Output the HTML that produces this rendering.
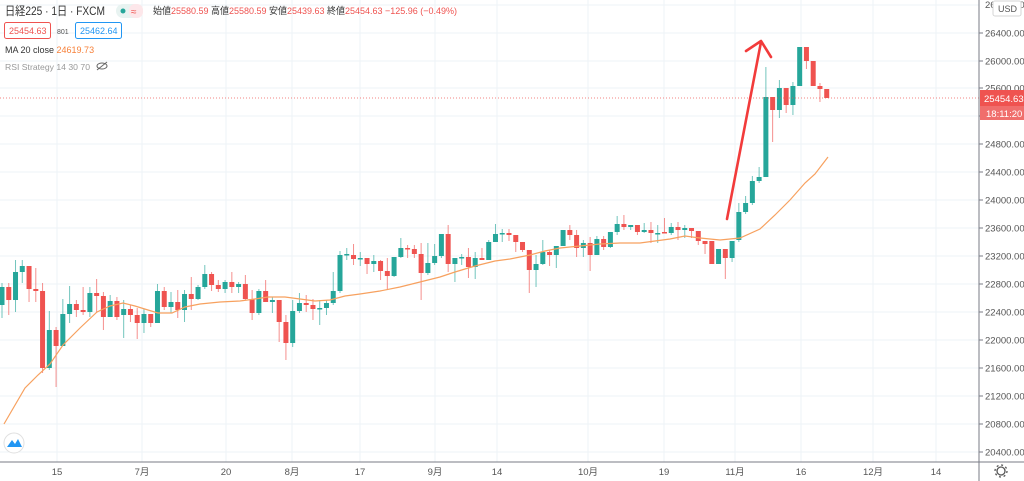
<!DOCTYPE html>
<html><head><meta charset="utf-8"><style>
body{margin:0;width:1024px;height:481px;overflow:hidden;background:#fff;font-family:"Liberation Sans","Noto Sans CJK JP",sans-serif}
svg{position:absolute;left:0;top:0}
</style></head><body>
<svg id="s" width="1024" height="481" xmlns="http://www.w3.org/2000/svg" font-family="Liberation Sans, Noto Sans CJK JP, sans-serif"></svg>
<script>
var o='';
var ys=[33,61,88,116,144,172,200,228,256,284,312,340,368,396,424,452];
var labs=[26400,26000,25600,25200,24800,24400,24000,23600,23200,22800,22400,22000,21600,21200,20800,20400];
o+='<line x1="0" y1="5" x2="979" y2="5" stroke="#eef3f7"/>';
ys.forEach(function(y){o+='<line x1="0" y1="'+y+'" x2="979" y2="'+y+'" stroke="#eef3f7"/>';});
var xl=[[57,'15'],[142,'7月'],[226,'20'],[292,'8月'],[360,'17'],[435,'9月'],[497,'14'],[588,'10月'],[664,'19'],[735,'11月'],[801,'16'],[873,'12月'],[936,'14']];
xl.forEach(function(a){o+='<line x1="'+a[0]+'" y1="0" x2="'+a[0]+'" y2="462" stroke="#eef3f7"/>';});
var c=[[287,305,283,318,'G'],[287,300,283,315,'R'],[272,300,260,312,'G'],[266,272,260,283,'G'],[266,289,266,302,'R'],[289,291,268,302,'R'],[291,368,283,373,'R'],[330,368,311,370,'G'],[330,346,327,387,'R'],[314,346,299,346,'G'],[304,314,286,323,'G'],[304,310,300,317,'R'],[310,312,287,315,'R'],[293,312,287,317,'G'],[293,296,279,313,'R'],[296,317,292,330,'R'],[301,317,295,317,'G'],[301,317,297,320,'R'],[309,315,300,338,'G'],[309,315,305,322,'R'],[315,323,308,339,'R'],[314,323,309,333,'G'],[314,323,314,327,'R'],[291,323,284,323,'G'],[291,307,287,310,'R'],[302,307,292,313,'G'],[302,310,290,318,'R'],[294,310,290,322,'G'],[294,299,277,310,'R'],[287,299,285,300,'G'],[274,287,265,289,'G'],[274,285,272,291,'R'],[285,289,280,292,'R'],[282,289,280,293,'G'],[282,287,272,293,'R'],[284,287,282,293,'G'],[284,299,275,300,'R'],[299,313,290,320,'R'],[291,313,289,315,'G'],[291,302,280,302,'R'],[300,302,297,313,'G'],[300,322,300,342,'R'],[322,343,315,360,'R'],[311,343,300,347,'G'],[303,311,293,313,'G'],[303,305,295,312,'R'],[305,309,299,320,'R'],[308,309,300,325,'G'],[303,308,300,315,'G'],[291,303,272,305,'G'],[255,291,251,293,'G'],[254,255,248,260,'G'],[255,259,244,265,'R'],[258,259,252,266,'G'],[258,264,258,274,'R'],[261,264,255,272,'G'],[261,271,260,280,'R'],[271,276,258,289,'R'],[257,276,257,277,'G'],[248,257,238,258,'G'],[248,249,245,258,'R'],[249,254,245,258,'R'],[254,273,243,300,'R'],[263,273,243,275,'G'],[256,263,244,265,'G'],[234,256,234,258,'G'],[234,264,225,272,'R'],[258,264,258,282,'G'],[257,258,254,265,'G'],[257,267,248,278,'R'],[258,267,252,279,'G'],[258,260,248,260,'R'],[242,260,240,260,'G'],[234,242,224,242,'G'],[233,234,229,242,'G'],[233,235,229,241,'R'],[235,242,235,252,'R'],[242,250,242,252,'R'],[250,270,250,293,'R'],[264,270,255,287,'G'],[252,264,240,265,'G'],[252,255,250,266,'R'],[246,255,246,268,'G'],[230,246,230,246,'G'],[230,235,225,240,'R'],[235,248,230,257,'R'],[243,248,240,257,'G'],[243,255,237,271,'R'],[239,255,236,255,'G'],[239,247,236,250,'R'],[232,247,232,248,'G'],[224,232,216,235,'G'],[224,227,215,230,'R'],[225,227,225,230,'G'],[225,232,225,235,'R'],[230,232,223,233,'G'],[230,233,222,243,'R'],[233,234,225,243,'G'],[232,233,218,233,'R'],[227,233,223,235,'G'],[227,230,222,240,'R'],[228,230,225,238,'G'],[228,231,228,238,'R'],[231,241,231,245,'R'],[241,244,241,254,'R'],[241,264,241,264,'R'],[249,264,249,264,'G'],[249,258,249,279,'R'],[241,258,241,262,'G'],[212,240,203,242,'G'],[203,212,196,214,'G'],[181,203,176,205,'G'],[177,181,167,183,'G'],[97,177,67,177,'G'],[97,110,97,142,'R'],[88,110,80,118,'G'],[88,105,88,113,'R'],[86,105,82,115,'G'],[47,86,47,86,'G'],[47,61,47,69,'R'],[61,86,61,86,'R'],[86,89,83,102,'R'],[89,98,89,98,'R']];
c.forEach(function(d,i){var x=2+i*6.76;var col=d[4]=='G'?'#26a69a':'#ef5350';
o+='<line x1="'+x+'" y1="'+d[2]+'" x2="'+x+'" y2="'+d[3]+'" stroke="'+col+'" stroke-opacity="0.65" stroke-width="1"/>';
var h=Math.max(1.5,d[1]-d[0]);o+='<rect x="'+(x-2.5)+'" y="'+d[0]+'" width="5" height="'+h+'" fill="'+col+'"/>';});
var m=[[4,424],[25,388],[38,375],[50,364],[63,345],[80,328],[97,312],[110,306],[123,303],[135,306],[148,310],[158,313],[172,313],[185,307],[200,304],[220,302],[240,301],[255,299],[268,297],[285,297],[300,299],[315,301],[330,300],[345,296],[360,294],[380,291],[400,287],[420,282],[440,277],[455,272],[475,266],[495,261],[510,259],[530,255],[545,251],[560,248],[580,246],[600,244],[620,243],[640,243],[655,241],[670,239],[685,236],[700,238],[720,240],[740,238],[760,229],[775,215],[790,200],[805,183],[815,174],[828,157]];
o+='<polyline fill="none" stroke="#f7a15f" stroke-width="1.2" points="'+m.map(function(p){return p.join(',')}).join(' ')+'"/>';
o+='<line x1="0" y1="98" x2="979" y2="98" stroke="#ef5350" stroke-dasharray="1,2" stroke-width="1" opacity="0.7"/>';
o+='<path d="M727,219 L761,42 M746,51 L761,41 L771,57" fill="none" stroke="#f23b3b" stroke-width="2.6" stroke-linecap="round" stroke-linejoin="round"/>';
o+='<line x1="979" y1="0" x2="979" y2="481" stroke="#787b86" stroke-width="1"/>';
o+='<line x1="0" y1="462" x2="1024" y2="462" stroke="#787b86" stroke-width="1"/>';
ys.forEach(function(y,i){o+='<line x1="979" y1="'+y+'" x2="983" y2="'+y+'" stroke="#787b86"/>';if(i!=3)o+='<text x="985" y="'+(y+3.5)+'" font-size="9.5" fill="#555">'+labs[i]+'.00</text>';});
o+='<text x="985" y="8" font-size="9.5" fill="#555">26800.00</text>';
o+='<rect x="993" y="1" width="28" height="15" rx="2" fill="#fff" stroke="#d6d6d6"/><text x="998" y="12" font-size="9" fill="#555">USD</text>';
o+='<rect x="980" y="90" width="44" height="16" fill="#ef5350"/><text x="984" y="102" font-size="9.5" fill="#fff">25454.63</text>';
o+='<rect x="980" y="106" width="44" height="14" fill="#f06e6c"/><text x="986" y="117" font-size="9.5" fill="#fff">18:11:20</text>';
xl.forEach(function(a){o+='<text x="'+a[0]+'" y="475" font-size="9.5" fill="#555" text-anchor="middle">'+a[1]+'</text>';});
o+='<circle cx="1001" cy="471" r="4" fill="none" stroke="#555" stroke-width="1.3"/><circle cx="1001" cy="471" r="6" fill="none" stroke="#555" stroke-width="1.3" stroke-dasharray="2,2.7"/>';
o+='<circle cx="14" cy="443" r="10" fill="#fff" stroke="#e0e0e0"/><path d="M7,447 L12,440 L15,444 L18,439 L22,447 Z" fill="#2196f3"/>';
o+='<text x="5" y="15" font-size="12" fill="#333" textLength="100" lengthAdjust="spacingAndGlyphs">日経225 · 1日 · FXCM</text>';
o+='<rect x="116" y="4" width="27" height="14" rx="7" fill="#e8f3f1"/><circle cx="123" cy="11" r="2.5" fill="#26a69a"/><rect x="129" y="4" width="14" height="14" rx="6" fill="#fde7ea"/><text x="131" y="15" font-size="10" fill="#ef5350">≈</text>';
o+='<text x="153" y="14" font-size="9.5" fill="#333" textLength="304" lengthAdjust="spacingAndGlyphs">始値<tspan fill="#ef5350">25580.59</tspan> 高値<tspan fill="#ef5350">25580.59</tspan> 安値<tspan fill="#ef5350">25439.63</tspan> 終値<tspan fill="#ef5350">25454.63 −125.96 (−0.49%)</tspan></text>';
o+='<rect x="4.5" y="22.5" width="46" height="16" rx="2" fill="#fff" stroke="#ef5350"/><text x="9" y="34" font-size="9" fill="#ef5350">25454.63</text>';
o+='<text x="57" y="34" font-size="7" fill="#555">801</text>';
o+='<rect x="75.5" y="22.5" width="46" height="16" rx="2" fill="#fff" stroke="#2196f3"/><text x="80" y="34" font-size="9" fill="#2196f3">25462.64</text>';
o+='<text x="5" y="53" font-size="9" fill="#333">MA 20 close <tspan fill="#f7813a">24619.73</tspan></text>';
o+='<text x="5" y="70" font-size="8.5" fill="#999" textLength="85" lengthAdjust="spacingAndGlyphs">RSI Strategy 14 30 70</text><ellipse cx="102" cy="66" rx="5" ry="3" fill="none" stroke="#666"/><line x1="97" y1="70" x2="107" y2="62" stroke="#666"/>';
document.getElementById('s').innerHTML=o;
</script>
</body></html>
